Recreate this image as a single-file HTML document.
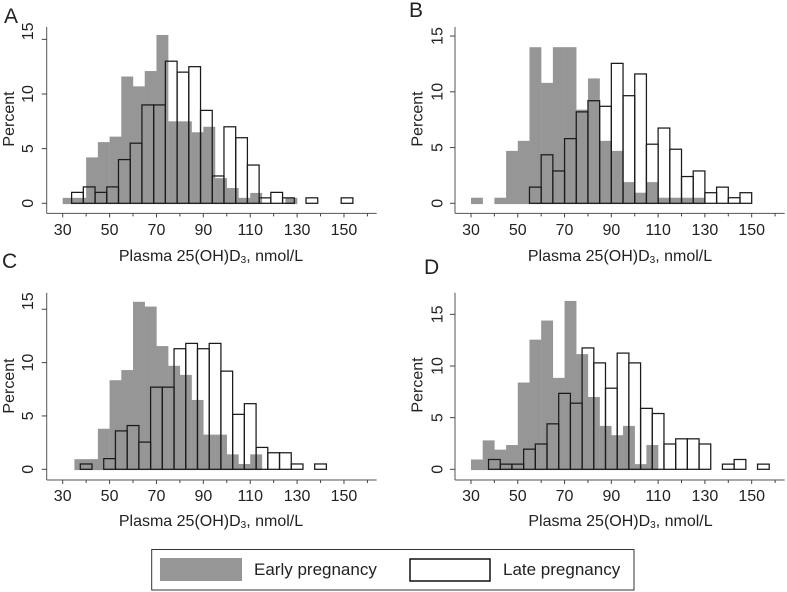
<!DOCTYPE html>
<html lang="en">
<head>
<meta charset="utf-8">
<title>Plasma 25(OH)D3 histograms</title>
<style>
html,body{margin:0;padding:0;background:#fff;}
svg{display:block;filter:blur(0.3px);}
text{font-family:"Liberation Sans",Arial,sans-serif;fill:#222;}
</style>
</head>
<body>
<svg id="chart" xmlns="http://www.w3.org/2000/svg" width="787" height="592" viewBox="0 0 787 592">
  <g id="panels"></g>
  <g>
    <rect x="151.7" y="549.5" width="482.3" height="40.5" fill="#fff" stroke="#333" stroke-width="1"/>
    <rect x="160" y="558" width="82" height="23" fill="#969696"/>
    <text x="254" y="575" font-size="17">Early pregnancy</text>
    <rect x="410" y="559" width="80" height="22" fill="#fff" stroke="#111" stroke-width="1.5"/>
    <text x="503" y="575" font-size="17">Late pregnancy</text>
  </g>
</svg>
<script>
const binWidth = 5;
const xMajorTicks = [30, 50, 70, 90, 110, 130, 150];
const xMinorTicks = [40, 60, 80, 100, 120, 140, 160];
const yTicks = [0, 5, 10, 15];

const earlyStartA = 30;
const earlyA = [0.5, 0.5, 4.2, 5.6, 6.1, 11.6, 10.7, 12.1, 15.4, 7.5, 7.5, 6.5, 7.0, 2.3, 1.4, 0.5, 0.95, 0, 0, 0.5];
const lateStartA = 33.8;
const lateA = [1, 1.5, 1, 1.5, 4, 5.5, 9, 9, 13, 12, 12.5, 8.5, 2.5, 7, 6, 3.5, 0.5, 1, 0.5, 0, 0.5, 0, 0, 0.5];

const earlyStartB = 30;
const earlyB = [0.5, 0, 0.5, 4.7, 5.6, 14, 10.8, 14, 14, 8.4, 11.2, 5.6, 4.7, 1.9, 0.95, 1.9, 0.5, 0.5, 0.5, 0.5];
const lateStartB = 55;
const lateB = [1.45, 4.35, 2.9, 5.8, 8.2, 9.2, 8.7, 12.55, 9.65, 11.6, 5.3, 6.75, 4.85, 2.4, 2.9, 0.95, 1.45, 0.5, 0.95];

const earlyStartC = 35;
const earlyC = [0.95, 0.95, 3.8, 8.35, 9.3, 15.7, 15.25, 11.55, 9.7, 8.85, 6.5, 3.25, 3.25, 1.4, 0.5, 1.4];
const lateStartC = 37.5;
const lateC = [0.5, 0, 1, 3.6, 4.1, 2.55, 7.7, 7.7, 11.3, 11.8, 11.3, 11.8, 9.2, 5.15, 6.15, 2.05, 1.55, 1.55, 0.5, 0, 0.5];

const earlyStartD = 30;
const earlyD = [0.95, 2.8, 1.9, 2.35, 8.4, 12.55, 14.4, 8.85, 16.3, 11.15, 7, 4.2, 3.3, 4.2, 0.5, 2.35];
const lateStartD = 37.5;
const lateD = [0.95, 0.5, 0.5, 1.95, 2.45, 4.4, 7.35, 6.4, 11.75, 10.3, 7.85, 11.25, 10.3, 5.9, 5.4, 2.45, 2.95, 2.95, 2.45, 0, 0.5, 0.95, 0, 0.5];

const panels = [
  {id:'a', letter:'A', lx:4, ly:23, early:earlyA, earlyStart:earlyStartA, late:lateA, lateStart:lateStartA,
   x30:62.7, xPer:2.344, y0:203.3, yPer:10.93, axisX:46.7, axisTop:27, axisBottom:213.4, axisRight:376.7,
   top15Shift:-8, percentX:14, percentY:119, tickLabelX:33, xLabelY:235, titleX:211, titleY:261},
  {id:'b', letter:'B', lx:409, ly:17, early:earlyB, earlyStart:earlyStartB, late:lateB, lateStart:lateStartB,
   x30:471, xPer:2.339, y0:203.3, yPer:11.15, axisX:455, axisTop:27, axisBottom:213.4, axisRight:784.7,
   top15Shift:0, percentX:422.5, percentY:119, tickLabelX:442.5, xLabelY:235, titleX:620, titleY:261},
  {id:'c', letter:'C', lx:2, ly:268, early:earlyC, earlyStart:earlyStartC, late:lateC, lateStart:lateStartC,
   x30:62.7, xPer:2.344, y0:469.3, yPer:10.67, axisX:46.7, axisTop:292.7, axisBottom:480, axisRight:376.7,
   top15Shift:-8, percentX:14, percentY:386, tickLabelX:33, xLabelY:501, titleX:211, titleY:526},
  {id:'d', letter:'D', lx:424, ly:274, early:earlyD, earlyStart:earlyStartD, late:lateD, lateStart:lateStartD,
   x30:471, xPer:2.339, y0:469.3, yPer:10.33, axisX:455, axisTop:292.7, axisBottom:480, axisRight:784.7,
   top15Shift:0, percentX:422.5, percentY:385, tickLabelX:442.5, xLabelY:501, titleX:620.5, titleY:526}
];

const NS = 'http://www.w3.org/2000/svg';
function make(tag, parent, attrs, text) {
  const el = document.createElementNS(NS, tag);
  for (const k in attrs) el.setAttribute(k, attrs[k]);
  if (text !== undefined) el.textContent = text;
  parent.appendChild(el);
  return el;
}
const root = document.getElementById('panels');

panels.forEach(function (p) {
  const xScale = function (v) { return p.x30 + (v - 30) * p.xPer; };
  const yScale = function (v) { return p.y0 - v * p.yPer; };

  const g = make('g', root, {});
  
  

  const letter = make('text', g, {x: p.lx, y: p.ly, 'font-size': 21}, p.letter);
  
  

  p.early.forEach(function (v, i) {
    if (!v) return;
    const x0 = xScale(p.earlyStart + i * binWidth);
    const x1 = xScale(p.earlyStart + (i + 1) * binWidth);
    const bar = make('rect', g, {x: x0, y: yScale(v), width: x1 - x0 + 0.2, height: v * p.yPer + 0.8, fill: '#969696'});
    
    
  });

  p.late.forEach(function (v, i) {
    if (!v) return;
    const x0 = xScale(p.lateStart + i * binWidth);
    const x1 = xScale(p.lateStart + (i + 1) * binWidth);
    const bar = make('rect', g, {x: x0, y: yScale(v), width: x1 - x0, height: v * p.yPer, fill: 'none', stroke: '#1a1a1a', 'stroke-width': 1.25});
    
    
  });

  const yAxis = make('line', g, {x1: p.axisX, x2: p.axisX, y1: p.axisTop, y2: p.axisBottom, stroke: '#555', 'stroke-width': 1});
  
  

  const xAxis = make('line', g, {x1: p.axisX, x2: p.axisRight, y1: p.axisBottom, y2: p.axisBottom, stroke: '#555', 'stroke-width': 1});
  
  

  yTicks.forEach(function (t) {
    const y = yScale(t);
    const tick = make('line', g, {x1: p.axisX - 5, x2: p.axisX, y1: y, y2: y, stroke: '#444', 'stroke-width': 1});
    
    
    const ly = y + (t === 15 ? p.top15Shift : 0);
    const label = make('text', g, {x: p.tickLabelX, y: ly, 'font-size': 16, 'text-anchor': 'middle', transform: 'rotate(-90 ' + p.tickLabelX + ' ' + ly + ')'}, String(t));
    
    
  });

  xMajorTicks.forEach(function (t) {
    const x = xScale(t);
    const tick = make('line', g, {x1: x, x2: x, y1: p.axisBottom, y2: p.axisBottom + 4, stroke: '#444', 'stroke-width': 1});
    
    
    const label = make('text', g, {x: x, y: p.xLabelY, 'font-size': 16, 'text-anchor': 'middle'}, String(t));
    
    
  });

  xMinorTicks.forEach(function (t) {
    const x = xScale(t);
    const tick = make('line', g, {x1: x, x2: x, y1: p.axisBottom, y2: p.axisBottom + 3, stroke: '#444', 'stroke-width': 1});
    
    
  });

  const yTitle = make('text', g, {x: p.percentX, y: p.percentY, 'font-size': 16, 'text-anchor': 'middle', transform: 'rotate(-90 ' + p.percentX + ' ' + p.percentY + ')'}, 'Percent');
  
  

  const xTitle = make('text', g, {x: p.titleX, y: p.titleY, 'font-size': 16, 'text-anchor': 'middle'});
  
  
  make('tspan', xTitle, {}, 'Plasma 25(OH)D');
  make('tspan', xTitle, {'font-size': 10, dy: 2}, '3');
  make('tspan', xTitle, {dy: -2}, ', nmol/L');
});
</script>
</body>
</html>
